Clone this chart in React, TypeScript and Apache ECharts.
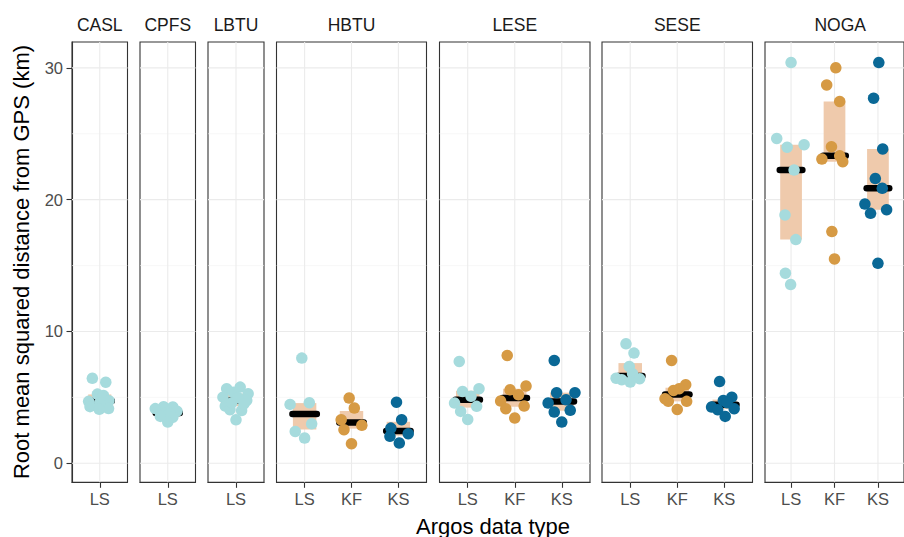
import React, { useEffect, useRef } from "react";
import * as echarts from "echarts";

// ---------- data ----------
const panelNames = ["CASL", "CPFS", "LBTU", "HBTU", "LESE", "SESE", "NOGA"];
const panelTypes = [["LS"], ["LS"], ["LS"], ["LS", "KF", "KS"], ["LS", "KF", "KS"], ["LS", "KF", "KS"], ["LS", "KF", "KS"]];
const yTickValues = [0, 10, 20, 30];
const yMinorValues = [5, 15, 25];

const casl_LS = [6.45, 6.15, 5.25, 5.15, 4.75, 4.7, 4.6, 4.3, 4.15, 4.1];
const casl_LS_jit = [-0.16, 0.13, -0.05, 0.08, 0.2, -0.24, 0.0, -0.21, 0.19, -0.01];

const cpfs_LS = [4.3, 4.28, 4.15, 3.95, 3.82, 3.78, 3.56, 3.5, 3.13];
const cpfs_LS_jit = [-0.09, 0.11, -0.27, 0.2, -0.05, 0.05, -0.16, 0.11, 0.0];

const lbtu_LS = [5.66, 5.78, 5.28, 5.02, 4.77, 4.34, 4.0, 4.07, 3.3, 5.4, 5.0, 4.6, 4.5];
const lbtu_LS_jit = [-0.2, 0.09, 0.26, -0.28, 0.23, -0.23, 0.12, -0.13, 0.0, -0.06, 0.04, -0.09, 0.17];

const hbtu_LS = [7.98, 4.6, 4.47, 3.0, 2.42, 1.92];
const hbtu_LS_jit = [-0.06, 0.1, -0.31, 0.15, -0.2, 0.0];
const hbtu_KF = [4.95, 4.19, 3.31, 2.88, 2.55, 1.49];
const hbtu_KF_jit = [-0.05, 0.06, -0.22, 0.22, -0.16, 0.0];
const hbtu_KS = [4.64, 3.31, 2.67, 2.25, 2.05, 1.54];
const hbtu_KS_jit = [-0.04, 0.07, -0.16, 0.21, -0.18, 0.02];

const lese_LS = [7.73, 5.45, 5.66, 5.08, 4.57, 4.32, 3.94, 3.33];
const lese_LS_jit = [-0.18, -0.11, 0.24, 0.07, -0.28, 0.19, -0.15, 0.0];
const lese_KF = [8.18, 5.86, 5.58, 5.2, 4.72, 4.34, 4.14, 3.43];
const lese_KF_jit = [-0.16, 0.24, -0.1, 0.08, -0.3, 0.2, -0.19, 0.0];
const lese_KS = [7.8, 5.36, 5.36, 4.82, 4.57, 4.02, 3.89, 3.13];
const lese_KS_jit = [-0.16, -0.11, 0.28, 0.09, -0.29, 0.18, -0.16, 0.0];

const sese_LS = [9.07, 8.36, 7.35, 6.8, 6.46, 6.34, 6.42, 6.16];
const sese_LS_jit = [-0.09, 0.08, -0.02, 0.05, -0.3, -0.18, 0.2, 0.0];
const sese_KF = [7.8, 5.96, 5.66, 5.53, 4.9, 4.7, 4.7, 4.09];
const sese_KF_jit = [-0.12, 0.18, 0.04, -0.08, -0.26, 0.2, -0.19, 0.0];
const sese_KS = [6.2, 5.02, 4.77, 4.6, 4.27, 4.14, 4.07, 3.56];
const sese_KS_jit = [-0.1, 0.16, -0.02, 0.06, -0.27, 0.21, -0.14, 0.02];

const noga_LS = [30.4, 24.64, 23.98, 24.17, 22.25, 18.84, 16.97, 14.42, 13.56];
const noga_LS_jit = [0.0, -0.33, -0.09, 0.3, 0.07, -0.14, 0.11, -0.13, -0.01];
const noga_KF = [30.0, 28.7, 27.45, 24.02, 23.08, 23.33, 22.88, 17.58, 15.5];
const noga_KF_jit = [0.03, -0.18, 0.12, -0.07, -0.29, 0.12, 0.19, -0.06, 0.0];
const noga_KS = [30.4, 27.7, 23.85, 21.6, 20.86, 19.67, 19.24, 18.96, 15.17];
const noga_KS_jit = [0.02, -0.1, 0.11, -0.06, 0.1, -0.3, 0.2, -0.17, 0.0];

const panelValues = [
  [casl_LS],
  [cpfs_LS],
  [lbtu_LS],
  [hbtu_LS, hbtu_KF, hbtu_KS],
  [lese_LS, lese_KF, lese_KS],
  [sese_LS, sese_KF, sese_KS],
  [noga_LS, noga_KF, noga_KS],
];
const panelJitter = [
  [casl_LS_jit],
  [cpfs_LS_jit],
  [lbtu_LS_jit],
  [hbtu_LS_jit, hbtu_KF_jit, hbtu_KS_jit],
  [lese_LS_jit, lese_KF_jit, lese_KS_jit],
  [sese_LS_jit, sese_KF_jit, sese_KS_jit],
  [noga_LS_jit, noga_KF_jit, noga_KS_jit],
];

// ---------- style / layout ----------
const typeColors: Record<string, string> = { LS: "#A6DBDD", KF: "#D69A44", KS: "#0A6896" };
const boxFill = "#EFCAAC";
const FONT = "'Liberation Sans', Arial, Helvetica, sans-serif";
const panelLeft = [72, 140, 208, 276.5, 439.5, 602, 765];
const panelWidth = [55.5, 55.5, 56, 150, 150.5, 150.5, 150.5];
const panelTop = 42;
const panelHeight = 440.3;
const yMin = -1.44;
const yMax = 31.96;

function quantile(arr: number[], p: number) {
  const s = [...arr].sort((a, b) => a - b);
  const h = (s.length - 1) * p;
  const lo = Math.floor(h);
  const hi = Math.min(lo + 1, s.length - 1);
  return s[lo] + (h - lo) * (s[hi] - s[lo]);
}

const axisLineStyle = { color: "#333333", width: 1.1 };

function buildOption() {
  const grid: any[] = [];
  const xAxis: any[] = [];
  const yAxis: any[] = [];
  const series: any[] = [];
  const graphic: any[] = [];

  panelNames.forEach((name, i) => {
    const types = panelTypes[i];
    const n = types.length;
    const ticks = types.map((_, j) => j);
    grid.push({
      left: panelLeft[i],
      top: panelTop,
      width: panelWidth[i],
      height: panelHeight,
      show: true,
      backgroundColor: "#ffffff",
      borderColor: "#333333",
      borderWidth: 1.1,
    });
    xAxis.push({
      type: "value",
      gridIndex: i,
      min: -0.6,
      max: n - 0.4,
      axisLine: { show: true, onZero: false, lineStyle: axisLineStyle },
      splitLine: { show: false },
      axisTick: { show: true, customValues: ticks, length: 5.5, lineStyle: axisLineStyle },
      axisLabel: {
        show: true,
        customValues: ticks,
        formatter: (v: number) => types[Math.round(v)] ?? "",
        fontSize: 16.5,
        color: "#4d4d4d",
        fontFamily: FONT,
        margin: 8,
      },
    });
    yAxis.push({
      type: "value",
      gridIndex: i,
      min: yMin,
      max: yMax,
      axisLine: { show: i === 0, onZero: false, lineStyle: axisLineStyle },
      splitLine: { show: false },
      axisTick:
        i === 0
          ? { show: true, customValues: yTickValues, length: 5.5, lineStyle: axisLineStyle }
          : { show: false },
      axisLabel:
        i === 0
          ? { show: true, customValues: yTickValues, fontSize: 16.5, color: "#4d4d4d", fontFamily: FONT, margin: 9 }
          : { show: false },
    });

    // grid lines
    const gl: number[][] = [];
    yTickValues.forEach((v) => gl.push([0, v, 0]));
    yMinorValues.forEach((v) => gl.push([0, v, 1]));
    ticks.forEach((t) => gl.push([t, 0, 2]));
    series.push({
      type: "custom",
      xAxisIndex: i,
      yAxisIndex: i,
      z: 1,
      silent: true,
      data: gl,
      renderItem: (params: any, api: any) => {
        const cs = params.coordSys;
        const kind = api.value(2);
        if (kind === 2) {
          const px = api.coord([api.value(0), 0])[0];
          return {
            type: "line",
            shape: { x1: px, y1: cs.y, x2: px, y2: cs.y + cs.height },
            style: { stroke: "#EBEBEB", lineWidth: 1.1 },
          };
        }
        const py = api.coord([0, api.value(1)])[1];
        return {
          type: "line",
          shape: { x1: cs.x, y1: py, x2: cs.x + cs.width, y2: py },
          style: { stroke: kind === 0 ? "#EBEBEB" : "#F3F3F3", lineWidth: kind === 0 ? 1.1 : 0.6 },
        };
      },
    });

    // boxes (IQR) and medians
    const boxData = types.map((_, j) => {
      const vals = panelValues[i][j];
      return [j, quantile(vals, 0.25), quantile(vals, 0.75), quantile(vals, 0.5)];
    });
    series.push({
      type: "custom",
      xAxisIndex: i,
      yAxisIndex: i,
      z: 2,
      silent: true,
      data: boxData,
      renderItem: (params: any, api: any) => {
        const x = api.value(0);
        const q1 = api.value(1);
        const q3 = api.value(2);
        const med = api.value(3);
        const a = api.coord([x - 0.25, q3]);
        const b = api.coord([x + 0.25, q1]);
        const m1 = api.coord([x - 0.26, med]);
        const m2 = api.coord([x + 0.26, med]);
        return {
          type: "group",
          children: [
            {
              type: "rect",
              shape: { x: a[0], y: a[1], width: b[0] - a[0], height: b[1] - a[1] },
              style: { fill: boxFill },
            },
            {
              type: "line",
              shape: { x1: m1[0], y1: m1[1], x2: m2[0], y2: m2[1] },
              style: { stroke: "#000000", lineWidth: 6.5, lineCap: "round" },
            },
          ],
        };
      },
    });

    // points
    types.forEach((t, j) => {
      const vals = panelValues[i][j];
      const jit = panelJitter[i][j];
      series.push({
        type: "scatter",
        xAxisIndex: i,
        yAxisIndex: i,
        z: 3,
        symbol: "circle",
        symbolSize: 11.5,
        itemStyle: { color: typeColors[t], opacity: 1 },
        data: vals.map((v, k) => [j + jit[k], v]),
        silent: true,
      });
    });

    graphic.push({
      type: "text",
      x: panelLeft[i] + panelWidth[i] / 2,
      y: 24.5,
      style: {
        text: name,
        fill: "#1a1a1a",
        fontSize: 17.5,
        fontFamily: FONT,
        align: "center",
        verticalAlign: "middle",
      },
    });
  });

  graphic.push({
    type: "text",
    x: 493,
    y: 526,
    style: {
      text: "Argos data type",
      fill: "#000000",
      fontSize: 22,
      fontFamily: FONT,
      align: "center",
      verticalAlign: "middle",
    },
  });
  graphic.push({
    type: "text",
    x: 21,
    y: 262,
    rotation: Math.PI / 2,
    style: {
      text: "Root mean squared distance from GPS (km)",
      fill: "#000000",
      fontSize: 22,
      fontFamily: FONT,
      align: "center",
      verticalAlign: "middle",
    },
  });

  return {
    animation: false,
    backgroundColor: "#ffffff",
    grid,
    xAxis,
    yAxis,
    series,
    graphic,
  };
}

export default function App() {
  const ref = useRef<HTMLDivElement>(null);
  useEffect(() => {
    if (!ref.current) return;
    const chart = echarts.init(ref.current, null, { renderer: "svg" });
    chart.setOption(buildOption() as any);
    return () => chart.dispose();
  }, []);
  return (
    <div
      ref={ref}
      style={{ position: "absolute", left: 0, top: 0, width: 904, height: 537, background: "#ffffff" }}
    />
  );
}
